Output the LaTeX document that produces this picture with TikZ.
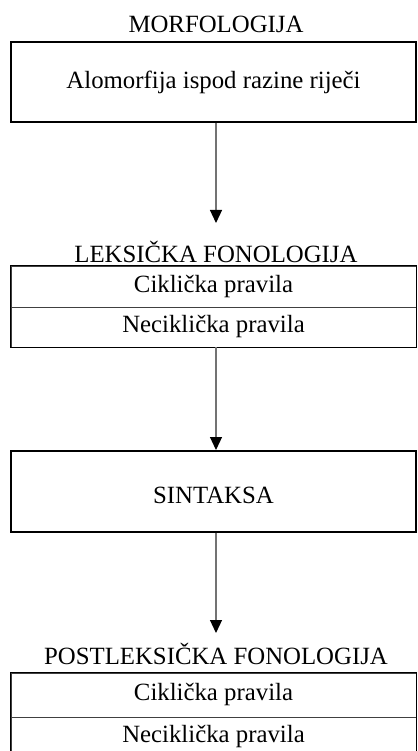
\documentclass[tikz,border=0pt]{standalone}
\usepackage{fontspec}
\setmainfont{Liberation Serif}
\usetikzlibrary{arrows.meta}
\begin{document}
\begin{tikzpicture}[x=1pt,y=-1pt,
  every node/.style={font=\fontsize{24.8pt}{28pt}\selectfont, inner sep=0pt},
  box/.style={draw=black, line width=1.6pt, minimum width=405pt},
  cell/.style={draw=black!75, line width=0.9pt, minimum width=405pt},
  frame/.style={draw=black, line width=1.6pt},
  arr/.style={draw=black!55, line width=1.2pt, -{Triangle[width=12pt,length=13pt,color=black]}}]
\useasboundingbox (0,0) rectangle (417,751);
\clip (0,0) rectangle (417,751);
\fill[white] (0,0) rectangle (417,751);

% MORFOLOGIJA
\node (t1) at (216,24) {MORFOLOGIJA};
\node[box, minimum height=80.5pt] (b1) at (213.5,82) {Alomorfija ispod razine riječi};

% LEKSICKA FONOLOGIJA
\node (t2) at (216,252) {LEKSIČKA FONOLOGIJA};
\node[cell, minimum height=41pt] (l1) at (213.5,286.5) {Ciklička pravila};
\node[cell, minimum height=40pt] (l2) at (213.5,327) {Neciklička pravila};
\draw[frame] (l1.north west) rectangle (l2.south east);

% SINTAKSA
\node[box, minimum height=81pt, text height=23.4pt] (s) at (213.5,491.5) {SINTAKSA};

% POSTLEKSICKA FONOLOGIJA
\node (t4) at (216,654) {POSTLEKSIČKA FONOLOGIJA};
\node[cell, minimum height=44pt] (p1) at (213.5,695) {Ciklička pravila};
\node[cell, minimum height=40pt] (p2) at (213.5,737) {Neciklička pravila};
\draw[frame] (p1.north west) rectangle (p2.south east);

% arrows
\coordinate (a1) at (216,223);
\coordinate (a2) at (216,450);
\coordinate (a3) at (216,633);
\draw[arr] (b1.south -| a1) -- (a1);
\draw[arr] (l2.south -| a2) -- (a2);
\draw[arr] (s.south -| a3) -- (a3);
\end{tikzpicture}
\end{document}
